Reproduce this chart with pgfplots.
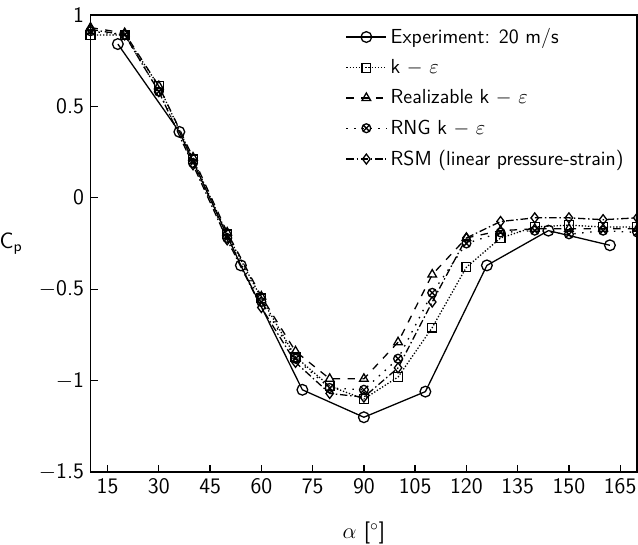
\documentclass[border=0pt]{standalone}
\usepackage{pgfplots}
\pgfplotsset{compat=1.18}
\begin{document}
\begin{tikzpicture}
\begin{axis}[
  scale only axis,
  width=296pt, height=247.6pt,
  xmin=10, xmax=170, ymin=-1.5, ymax=1,
  xtick={15,30,...,165},
  ytick={-1.5,-1,-0.5,0,0.5,1},
  yticklabels={$-$1.5,$-$1,$-$0.5,0,0.5,1},
  xtick pos=bottom, ytick pos=left, tick align=inside,
  major tick length=4pt,
  axis line style={line width=1pt},
  every tick/.style={line width=0.7pt, black},
  /pgf/number format/assume math mode=true,
  tick label style={font=\fontsize{12}{14}\sffamily\selectfont},
  xlabel={\fontsize{12}{14}\sffamily\selectfont $\alpha$ [$^\circ$]},
  ylabel={\fontsize{12}{14}\sffamily\selectfont C\textsubscript{p}},
  ylabel style={rotate=-90, at={(ticklabel cs:0.5)}, anchor=east, xshift=-2pt},
  xlabel style={yshift=-8pt},
  legend cell align=left,
  legend style={draw=none, fill=none, font=\fontsize{11}{13}\sffamily\selectfont, at={(0.456,0.988)}, anchor=north west, row sep=3.2pt},
  legend image code/.code={\draw[mark repeat=2,mark phase=2,#1] plot coordinates {(0cm,0cm)(0.38cm,0cm)(0.76cm,0cm)};},
  every axis plot/.append style={line width=0.7pt, black},
]
\addplot[solid, mark=o, mark size=2.9pt, mark options={solid, fill=white}] coordinates {
(18,0.84)(36,0.36)(54,-0.37)(72,-1.05)(90,-1.2)(108,-1.06)(126,-0.37)(144,-0.18)(162,-0.26)};
\addlegendentry{Experiment: 20 m/s}
\addplot[densely dotted, mark=square, mark size=2.4pt, mark options={solid}] coordinates {
(10,0.89)(20,0.89)(30,0.61)(40,0.21)(50,-0.2)(60,-0.55)(70,-0.87)(80,-1.03)(90,-1.10)(100,-0.98)(110,-0.71)(120,-0.38)(130,-0.22)(140,-0.16)(150,-0.15)(160,-0.16)(170,-0.16)};
\addlegendentry{k $-$ $\varepsilon$}
\addplot[dash pattern=on 4pt off 4pt, mark=triangle, mark size=2.7pt, mark options={solid}] coordinates {
(10,0.93)(20,0.9)(30,0.61)(40,0.22)(50,-0.19)(60,-0.54)(70,-0.84)(80,-0.99)(90,-0.99)(100,-0.79)(110,-0.42)(120,-0.22)(130,-0.18)(140,-0.17)(150,-0.17)(160,-0.17)(170,-0.17)};
\addlegendentry{Realizable k $-$ $\varepsilon$}
\addplot[dash pattern=on 0.8pt off 3.5pt, mark=otimes, mark size=2.4pt, mark options={solid}] coordinates {
(10,0.91)(20,0.89)(30,0.58)(40,0.19)(50,-0.22)(60,-0.57)(70,-0.88)(80,-1.04)(90,-1.05)(100,-0.88)(110,-0.52)(120,-0.25)(130,-0.19)(140,-0.18)(150,-0.2)(160,-0.18)(170,-0.19)};
\addlegendentry{RNG k $-$ $\varepsilon$}
\addplot[dash pattern=on 4pt off 1.5pt on 0.8pt off 1.5pt, mark=diamond, mark size=2.7pt, mark options={solid}] coordinates {
(10,0.92)(20,0.89)(30,0.58)(40,0.18)(50,-0.23)(60,-0.6)(70,-0.9)(80,-1.07)(90,-1.09)(100,-0.93)(110,-0.57)(120,-0.22)(130,-0.13)(140,-0.11)(150,-0.11)(160,-0.12)(170,-0.11)};
\addlegendentry{RSM (linear pressure-strain)}
\end{axis}
\pgfresetboundingbox
\path[use as bounding box] ([shift={(-49pt,-39.1pt)}]current axis.south west) rectangle ([shift={(0.4pt,8pt)}]current axis.north east);
\end{tikzpicture}
\end{document}
